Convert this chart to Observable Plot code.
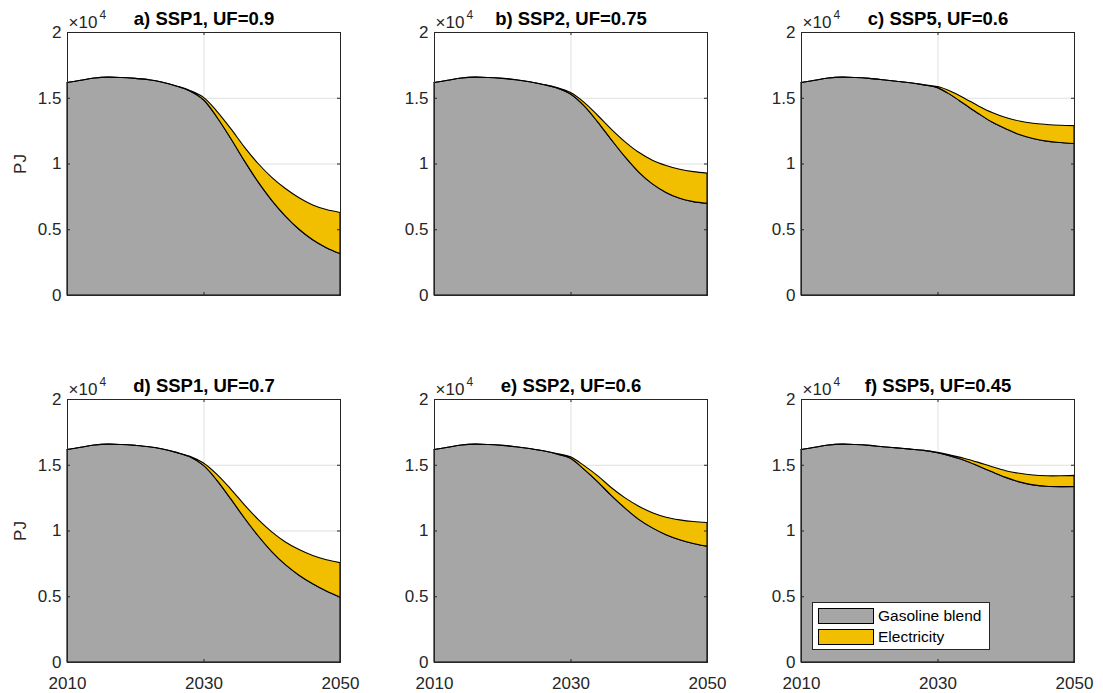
<!DOCTYPE html>
<html>
<head>
<meta charset="utf-8">
<script src="https://cdn.jsdelivr.net/npm/d3@7"></script>
<script src="https://cdn.jsdelivr.net/npm/@observablehq/plot@0.6"></script>
<style>
  body { margin: 0; background: #fff; }
  #chart { position: relative; width: 1103px; height: 693px; overflow: hidden;
           font-family: "Liberation Sans", Arial, Helvetica, sans-serif; }
  .panel { position: absolute; }
  .legend { position: absolute; background: #fff; border: 1px solid #262626; box-sizing: border-box; }
  .legend .sw { position: absolute; box-sizing: border-box; border: 1px solid #000; }
  .legend .lb { position: absolute; font-size: 15.5px; color: #000; line-height: 1; white-space: nowrap; }
</style>
</head>
<body>
<div id="chart"></div>
<script>
// Light-duty fuel demand (PJ), 2-year steps
const years = [2010, 2012, 2014, 2016, 2018, 2020, 2022, 2024, 2026, 2028, 2030,
               2032, 2034, 2036, 2038, 2040, 2042, 2044, 2046, 2048, 2050];

const fuels = ["Gasoline blend", "Electricity"];
const fuelColors = ["#a6a6a6", "#f2bf00"];

const titles = ["a) SSP1, UF=0.9", "b) SSP2, UF=0.75", "c) SSP5, UF=0.6",
                "d) SSP1, UF=0.7", "e) SSP2, UF=0.6", "f) SSP5, UF=0.45"];

const gasolineA = [16160, 16330, 16500, 16570, 16540, 16470, 16370, 16180, 15900, 15520, 14850,
                   13500, 11900, 10200, 8600, 7200, 6000, 5000, 4200, 3600, 3150];
const electricityA = [0, 0, 0, 0, 0, 0, 0, 0, 0, 40, 180,
                      450, 750, 1050, 1400, 1750, 2100, 2400, 2650, 2900, 3130];

const gasolineB = [16160, 16330, 16500, 16570, 16540, 16470, 16370, 16220, 16010, 15750, 15280,
                   14380, 13150, 11800, 10500, 9350, 8450, 7800, 7350, 7100, 6970];
const electricityB = [0, 0, 0, 0, 0, 0, 0, 0, 0, 20, 120,
                      270, 500, 800, 1150, 1500, 1800, 2050, 2210, 2280, 2300];

const gasolineC = [16160, 16330, 16500, 16570, 16540, 16470, 16370, 16260, 16140, 15980, 15770,
                   15200, 14500, 13800, 13150, 12650, 12200, 11900, 11700, 11600, 11520];
const electricityC = [0, 0, 0, 0, 0, 0, 0, 0, 0, 10, 80,
                      280, 450, 580, 730, 850, 1030, 1160, 1270, 1310, 1360];

const gasolineD = [16160, 16330, 16500, 16570, 16540, 16470, 16370, 16200, 15940, 15600, 14950,
                   13800, 12400, 10950, 9600, 8400, 7400, 6600, 5950, 5400, 4950];
const electricityD = [0, 0, 0, 0, 0, 0, 0, 0, 0, 40, 180,
                      450, 750, 1000, 1250, 1500, 1730, 1950, 2150, 2380, 2610];

const gasolineE = [16160, 16330, 16500, 16570, 16540, 16470, 16370, 16240, 16060, 15820, 15500,
                   14650, 13700, 12650, 11700, 10850, 10200, 9680, 9300, 9010, 8810];
const electricityE = [0, 0, 0, 0, 0, 0, 0, 0, 0, 30, 100,
                      280, 450, 600, 780, 1000, 1150, 1330, 1510, 1670, 1800];

const gasolineF = [16160, 16330, 16500, 16570, 16540, 16470, 16370, 16280, 16190, 16090, 15910,
                   15650, 15330, 14900, 14460, 14040, 13700, 13470, 13370, 13340, 13350];
const electricityF = [0, 0, 0, 0, 0, 0, 0, 0, 0, 10, 40,
                      70, 150, 280, 390, 510, 650, 750, 790, 820, 840];

const xTicks = [2010, 2030, 2050];
const yTicks = [0, 5000, 10000, 15000, 20000];
const xGrid = [2030];
const yGrid = [5000, 10000, 15000];

const panels = [
  {title: titles[0], gasoline: gasolineA, electricity: electricityA},
  {title: titles[1], gasoline: gasolineB, electricity: electricityB},
  {title: titles[2], gasoline: gasolineC, electricity: electricityC},
  {title: titles[3], gasoline: gasolineD, electricity: electricityD},
  {title: titles[4], gasoline: gasolineE, electricity: electricityE},
  {title: titles[5], gasoline: gasolineF, electricity: electricityF}
];

// layout of the 2 x 3 grid of axes
const PW = 273, PH = 263;
const ML = 67, MR = 20, MT = 32, MB = 31;
const colLeft = [67, 434, 801];
const rowTop = [32, 398.5];
const axisColor = "#262626";
const gridColor = "#e0e0e0";
const FONT = "'Liberation Sans', Arial, Helvetica, sans-serif";
const TICK = 3;

function makePanel(p, row, col) {
  const rows = [];
  years.forEach((yr, i) => rows.push({year: yr, fuel: fuels[0], value: p.gasoline[i]}));
  years.forEach((yr, i) => rows.push({year: yr, fuel: fuels[1], value: p.electricity[i]}));
  const bottom = row === 1;
  const first = col === 0;

  const marks = [
    Plot.gridX(xGrid, {stroke: gridColor, strokeOpacity: 1}),
    Plot.gridY(yGrid, {stroke: gridColor, strokeOpacity: 1}),
    Plot.areaY(rows, {x: "year", y: "value", z: "fuel", fill: "fuel",
                      stroke: "#000", strokeWidth: 1.1, curve: "catmull-rom"}),
    Plot.frame({stroke: axisColor}),
    // inward ticks on all four sides of the box
    Plot.ruleX(xTicks, {stroke: axisColor, insetTop: PH - TICK}),
    Plot.ruleX(xTicks, {stroke: axisColor, insetBottom: PH - TICK}),
    Plot.ruleY(yTicks, {stroke: axisColor, insetRight: PW - TICK}),
    Plot.ruleY(yTicks, {stroke: axisColor, insetLeft: PW - TICK}),
    Plot.axisY(yTicks, {tickSize: 0, tickPadding: 6, tickFormat: d => String(d / 1e4),
                        label: null, fontSize: 17, fill: axisColor}),
    Plot.text([p.title], {text: d => d, frameAnchor: "top", dy: -7.5, lineAnchor: "bottom",
                          fontWeight: "bold", fontSize: 18.5, fill: "#000"}),
    Plot.text(["×10"], {text: d => d, frameAnchor: "top-left", dx: 1, dy: -5,
                        lineAnchor: "bottom", textAnchor: "start", fontSize: 17, fill: axisColor}),
    Plot.text(["4"], {text: d => d, frameAnchor: "top-left", dx: 32, dy: -14,
                      lineAnchor: "bottom", textAnchor: "start", fontSize: 12, fill: axisColor})
  ];
  if (bottom) {
    marks.push(Plot.axisX(xTicks, {tickSize: 0, tickPadding: 14, tickFormat: d => String(d),
                                   label: null, fontSize: 17, fill: axisColor}));
  }
  if (first) {
    marks.push(Plot.text(["PJ"], {text: d => d, frameAnchor: "left", rotate: -90, dx: -42,
                                  lineAnchor: "bottom", textAnchor: "middle", fontSize: 17, fill: axisColor}));
  }

  const svg = Plot.plot({
    width: ML + PW + MR,
    height: MT + PH + MB,
    marginLeft: ML, marginRight: MR, marginTop: MT, marginBottom: MB,
    style: {fontFamily: FONT, fontSize: "17px", color: axisColor, background: "transparent", overflow: "visible"},
    x: {domain: [2010, 2050], axis: null},
    y: {domain: [0, 20000], axis: null},
    color: {domain: fuels, range: fuelColors},
    marks
  });
  svg.classList.add("panel");
  svg.style.left = (colLeft[col] - ML) + "px";
  svg.style.top = (rowTop[row] - MT) + "px";
  return svg;
}

const chart = document.getElementById("chart");
panels.forEach((p, i) => chart.appendChild(makePanel(p, Math.floor(i / 3), i % 3)));

// legend inside the last axes
const legend = document.createElement("div");
legend.className = "legend";
Object.assign(legend.style, {left: "811.5px", top: "601.5px", width: "178px", height: "48px"});
fuels.forEach((f, i) => {
  const sw = document.createElement("div");
  sw.className = "sw";
  Object.assign(sw.style, {left: "5px", top: (5 + i * 21.5) + "px", width: "56px", height: "16px",
                           background: fuelColors[i]});
  legend.appendChild(sw);
  const lb = document.createElement("div");
  lb.className = "lb";
  lb.textContent = f;
  Object.assign(lb.style, {left: "65.5px", top: (5 + i * 21.5) + "px"});
  legend.appendChild(lb);
});
chart.appendChild(legend);
</script>
</body>
</html>
